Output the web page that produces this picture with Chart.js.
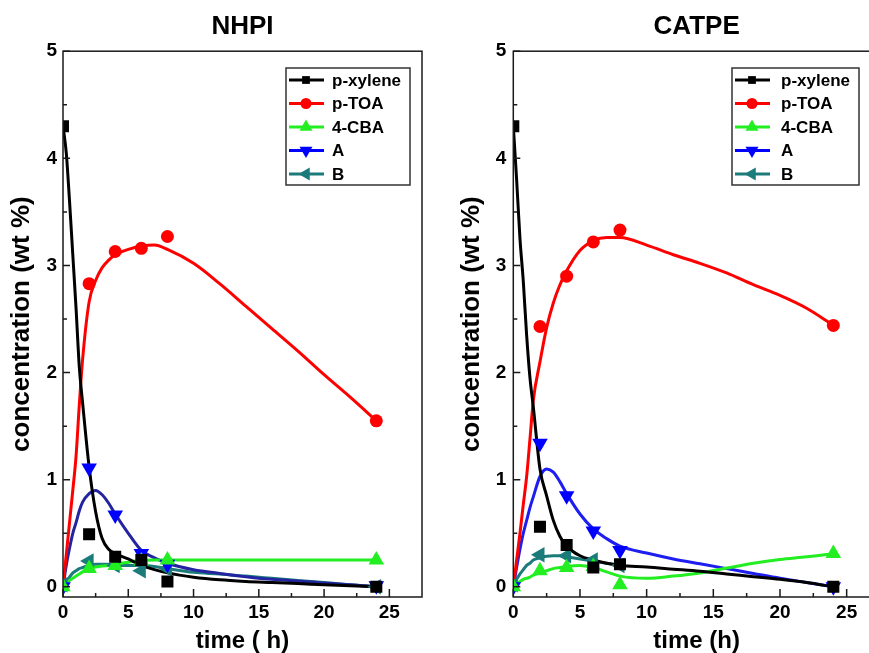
<!DOCTYPE html>
<html>
<head>
<meta charset="utf-8">
<script src="https://cdn.jsdelivr.net/npm/chart.js@4/dist/chart.umd.min.js"></script>
<style>
    html, body { margin: 0; padding: 0; background: #fff; overflow: hidden; }
    #wrap { position: relative; width: 869px; height: 653px; overflow: hidden; }
    .panel { position: absolute; top: 0; }
</style>
</head>
<body>
<div id="wrap">
    <canvas id="nhpiChart" class="panel" style="left:0" width="440" height="653"></canvas>
    <canvas id="catpeChart" class="panel" style="left:440px" width="457" height="653"></canvas>
</div>
<script>
// Series and sampling times
const seriesNames = ['p-xylene', 'p-TOA', '4-CBA', 'A', 'B'];
const sampleTimes = [0, 2, 4, 6, 8, 24];

// NHPI measured points (wt %)
const nhpiXylene = [4.3, 0.49, 0.28, 0.25, 0.05, 0.0];
const nhpiToa = [null, 2.83, 3.13, 3.16, 3.27, 1.55];
const nhpiCba = [0.0, 0.17, 0.2, 0.24, 0.25, 0.25];
const nhpiA = [0.0, 1.11, 0.67, 0.31, 0.21, 0.01];
const nhpiB = [0.02, 0.24, 0.2, 0.15, 0.17, 0.0];

// CATPE measured points (wt %)
const catpeXylene = [4.3, 0.56, 0.39, 0.18, 0.21, 0.0];
const catpeToa = [null, 2.43, 2.9, 3.22, 3.33, 2.44];
const catpeCba = [0.0, 0.15, 0.18, 0.19, 0.02, 0.31];
const catpeA = [0.0, 1.34, 0.85, 0.52, 0.34, 0.0];
const catpeB = [0.02, 0.3, 0.29, 0.25, 0.2, null];

// Model curves at these times
const fitTimes = [0, 0.25, 0.5, 0.75, 1, 1.25, 1.5, 2, 2.5, 3, 3.5, 4, 5, 6, 7, 8, 10, 12, 14, 16, 18, 20, 22, 24];

const nhpiXyleneFit = [4.3, 4.05, 3.6, 3.1, 2.6, 2.05, 1.72, 1.12, 0.7, 0.45, 0.35, 0.31, 0.26, 0.2, 0.16, 0.13, 0.09, 0.065, 0.05, 0.04, 0.03, 0.02, 0.01, 0.0];
const nhpiToaFit = [0, 0.3, 0.6, 0.9, 1.22, 1.7, 2.12, 2.66, 2.86, 2.98, 3.05, 3.1, 3.15, 3.18, 3.19, 3.15, 3.02, 2.83, 2.62, 2.41, 2.2, 1.98, 1.77, 1.55];
const nhpiCbaFit = [0, 0.03, 0.06, 0.08, 0.1, 0.12, 0.14, 0.17, 0.185, 0.195, 0.2, 0.21, 0.23, 0.245, 0.25, 0.25, 0.25, 0.25, 0.25, 0.25, 0.25, 0.25, 0.25, 0.25];
const nhpiAFit = [0, 0.2, 0.36, 0.5, 0.6, 0.71, 0.79, 0.87, 0.9, 0.86, 0.78, 0.68, 0.5, 0.34, 0.27, 0.22, 0.16, 0.125, 0.095, 0.07, 0.055, 0.035, 0.02, 0];
const nhpiBFit = [0, 0.05, 0.09, 0.13, 0.15, 0.17, 0.18, 0.2, 0.21, 0.21, 0.21, 0.2, 0.2, 0.2, 0.19, 0.17, 0.135, 0.12, 0.1, 0.08, 0.06, 0.04, 0.02, 0];

const catpeXyleneFit = [4.3, 3.8, 3.25, 2.85, 2.35, 1.95, 1.68, 1.1, 0.85, 0.62, 0.47, 0.38, 0.29, 0.25, 0.22, 0.2, 0.185, 0.165, 0.145, 0.12, 0.095, 0.07, 0.04, 0];
const catpeToaFit = [0, 0.25, 0.5, 0.77, 1.03, 1.38, 1.74, 2.1, 2.42, 2.65, 2.82, 2.95, 3.14, 3.23, 3.26, 3.26, 3.19, 3.1, 3.02, 2.93, 2.82, 2.72, 2.6, 2.44];
const catpeCbaFit = [0.02, 0.03, 0.05, 0.07, 0.08, 0.09, 0.11, 0.13, 0.15, 0.17, 0.18, 0.19, 0.2, 0.18, 0.14, 0.1, 0.08, 0.1, 0.13, 0.175, 0.22, 0.255, 0.28, 0.31];
const catpeAFit = [0, 0.18, 0.35, 0.5, 0.62, 0.74, 0.84, 1.03, 1.1, 1.07, 0.98, 0.87, 0.68, 0.54, 0.45, 0.38, 0.315, 0.26, 0.215, 0.17, 0.125, 0.08, 0.04, 0];
const catpeBFit = [0.02, 0.07, 0.12, 0.16, 0.2, 0.22, 0.25, 0.27, 0.285, 0.29, 0.29, 0.28, 0.26, 0.24, 0.22, 0.2, null, null, null, null, null, null, null, null];

// Styles
const seriesColors = ['#000000', '#ff0000', '#22ee22', '#0000ff', '#1b7b7b'];
const markerStyles = [
    { pointStyle: 'rect', rotation: 0, radius: 8.5, legendRadius: 5.5 },
    { pointStyle: 'circle', rotation: 0, radius: 6.5, legendRadius: 5.5 },
    { pointStyle: 'triangle', rotation: 0, radius: 9, legendRadius: 7.5 },
    { pointStyle: 'triangle', rotation: 180, radius: 9, legendRadius: 7.5 },
    { pointStyle: 'triangle', rotation: 270, radius: 9, legendRadius: 7.5 }
];
const fontFamily = "'Liberation Sans', Arial, Helvetica, sans-serif";

Chart.defaults.font.family = fontFamily;
Chart.defaults.font.weight = 'bold';
Chart.defaults.color = '#000';

// Frame around the plot plus inward major/minor ticks (left and bottom)
const frameTicks = {
    id: 'frameTicks',
    afterDatasetsDraw(chart) {
        const { ctx, chartArea: a, scales: { x, y } } = chart;
        ctx.save();
        ctx.strokeStyle = '#1a1a1a';
        ctx.lineWidth = 1.5;
        ctx.beginPath();
        const xs = x.ticks.map(t => t.value);
        xs.forEach((v, i) => {
            const px = x.getPixelForValue(v);
            ctx.moveTo(px, a.bottom);
            ctx.lineTo(px, a.bottom - 8);
            if (i < xs.length - 1) {
                const mx = x.getPixelForValue((v + xs[i + 1]) / 2);
                ctx.moveTo(mx, a.bottom);
                ctx.lineTo(mx, a.bottom - 4);
            }
        });
        const ys = y.ticks.map(t => t.value);
        ys.forEach((v, i) => {
            const py = y.getPixelForValue(v);
            ctx.moveTo(a.left, py);
            ctx.lineTo(a.left + 7, py);
            if (i < ys.length - 1) {
                const my = y.getPixelForValue((v + ys[i + 1]) / 2);
                ctx.moveTo(a.left, my);
                ctx.lineTo(a.left + 4, my);
            }
        });
        ctx.stroke();
        ctx.strokeRect(a.left, a.top, a.right - a.left, a.bottom - a.top);
        ctx.restore();
    }
};

// Boxed legend drawn inside the plot area
const insideLegend = {
    id: 'insideLegend',
    afterDraw(chart, args, opts) {
        const ctx = chart.ctx;
        const items = chart.data.datasets.filter(ds => ds.label);
        ctx.save();
        ctx.fillStyle = '#fff';
        ctx.fillRect(opts.left, opts.top, opts.width, opts.height);
        ctx.strokeStyle = '#333';
        ctx.lineWidth = 1.5;
        ctx.strokeRect(opts.left, opts.top, opts.width, opts.height);
        ctx.font = 'bold 17px ' + fontFamily;
        ctx.textBaseline = 'middle';
        items.forEach((ds, i) => {
            const y = opts.top + 12 + i * 23.5;
            ctx.strokeStyle = ds.backgroundColor;
            ctx.lineWidth = 3;
            ctx.beginPath();
            ctx.moveTo(opts.left + 3, y);
            ctx.lineTo(opts.left + 38, y);
            ctx.stroke();
            ctx.fillStyle = ds.backgroundColor;
            Chart.helpers.drawPoint(ctx, {
                pointStyle: ds.pointStyle,
                rotation: ds.pointRotation,
                radius: ds.legendRadius,
                borderWidth: 0
            }, opts.left + 20, y);
            ctx.fillStyle = '#000';
            ctx.fillText(ds.label, opts.left + opts.textOffset, y + 1);
        });
        ctx.restore();
    }
};

function toPoints(times, values) {
    return times.map((t, i) => ({ x: t, y: values[i] }));
}

function buildPanel(canvasId, title, xTitle, measured, fits, fitBlue, layout) {
    const markerSets = measured.map((vals, i) => ({
        label: seriesNames[i],
        data: toPoints(sampleTimes, vals),
        showLine: false,
        backgroundColor: seriesColors[i],
        borderColor: seriesColors[i],
        borderWidth: 0,
        pointStyle: markerStyles[i].pointStyle,
        pointRotation: markerStyles[i].rotation,
        pointRadius: markerStyles[i].radius,
        legendRadius: markerStyles[i].legendRadius,
        clip: 0
    }));
    const curveSets = fits.map((vals, i) => ({
        data: toPoints(fitTimes, vals),
        showLine: true,
        borderColor: i === 3 ? fitBlue : seriesColors[i],
        borderWidth: 3,
        pointRadius: 0,
        cubicInterpolationMode: 'monotone',
        spanGaps: false
    }));

    return new Chart(document.getElementById(canvasId), {
        type: 'scatter',
        data: { datasets: [...markerSets, ...curveSets] },
        options: {
            responsive: false,
            animation: false,
            devicePixelRatio: 1,
            layout: { padding: { left: 0, right: layout.padRight, top: 0, bottom: 0 } },
            scales: {
                x: {
                    type: 'linear',
                    min: 0,
                    max: 27.5,
                    grid: { display: false, drawTicks: false },
                    border: { display: false },
                    ticks: { stepSize: 5, includeBounds: false, padding: 4, font: { size: 19, weight: 'bold' }, color: '#000' },
                    title: { display: true, text: xTitle, font: { size: 24, weight: 'bold', lineHeight: 1 }, padding: { top: 0, bottom: 0 }, color: '#000' },
                    afterFit: scale => { scale.height = 56; }
                },
                y: {
                    type: 'linear',
                    min: -0.095,
                    max: 5,
                    grid: { display: false, drawTicks: false },
                    border: { display: false },
                    ticks: { stepSize: 1, includeBounds: false, padding: layout.yTickPad, font: { size: 19, weight: 'bold' }, color: '#000' },
                    title: { display: true, text: 'concentration (wt %)', font: { size: 26, weight: 'bold' }, padding: { top: layout.yTitlePad, bottom: 0 }, color: '#000' },
                    afterFit: scale => { scale.width = layout.yWidth; }
                }
            },
            plugins: {
                legend: { display: false },
                tooltip: { enabled: false },
                title: {
                    display: true,
                    text: title,
                    fullSize: false,
                    font: { size: 26, weight: 'bold' },
                    color: '#000',
                    padding: { top: 11, bottom: 9 }
                },
                insideLegend: layout.legend
            }
        },
        plugins: [frameTicks, insideLegend]
    });
}

buildPanel('nhpiChart', 'NHPI', 'time ( h)',
    [nhpiXylene, nhpiToa, nhpiCba, nhpiA, nhpiB],
    [nhpiXyleneFit, nhpiToaFit, nhpiCbaFit, nhpiAFit, nhpiBFit],
    '#2424a0',
    { padRight: 18, yWidth: 63, yTickPad: 6, yTitlePad: 6,
      legend: { left: 286, top: 68, width: 124, height: 117, textOffset: 46 } });

buildPanel('catpeChart', 'CATPE', 'time (h)',
    [catpeXylene, catpeToa, catpeCba, catpeA, catpeB],
    [catpeXyleneFit, catpeToaFit, catpeCbaFit, catpeAFit, catpeBFit],
    '#1e1ef0',
    { padRight: 17, yWidth: 73.3, yTickPad: 7, yTitlePad: 16,
      legend: { left: 292, top: 68, width: 127, height: 117, textOffset: 49 } });
</script>
</body>
</html>
